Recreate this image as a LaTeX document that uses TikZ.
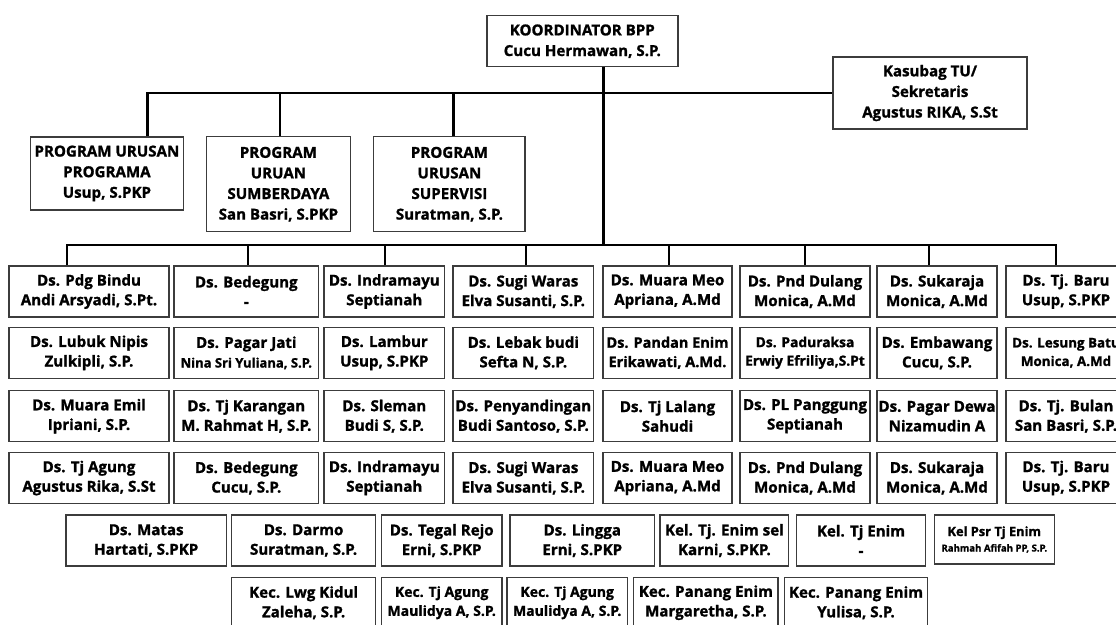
\documentclass[tikz,border=0pt]{standalone}
\usepackage{fontspec}
\setmainfont{Open Sans}[BoldFeatures={FakeBold=1.2}]
\definecolor{boxgray}{HTML}{3C3C3C}

\begin{document}
\begin{tikzpicture}[x=1pt, y=-1pt,
    box/.style={draw=boxgray, line width=1.4pt, fill=white, align=center, inner sep=0pt,
        minimum height=51pt, font=\bfseries\fontsize{15.1}{19.6}\selectfont},
    head/.style={box, font=\bfseries\fontsize{15.1}{20.6}\selectfont},
    link/.style={line width=2.2pt, line join=miter},
    smaller/.style={font=\bfseries\fontsize{13.8}{18.5}\selectfont}]
    \useasboundingbox (0,0) rectangle (1116,624);
    \clip (0,0) rectangle (1116,624);

    % top level
    \node[head, minimum width=191pt] (koord) at (582.3,41.2) {KOORDINATOR BPP\\Cucu Hermawan, S.P.};
    \node[head, minimum width=194pt, minimum height=72pt] (kasubag) at (930,93) {Kasubag TU/\\Sekretaris\\Agustus RIKA, S.St};
    \node[head, minimum width=153pt, minimum height=73pt] (prog1) at (106.9,173.5) {PROGRAM URUSAN\\PROGRAMA\\Usup, S.PKP};
    \node[head, minimum width=144pt, minimum height=95pt] (prog2) at (278.4,184.2) {PROGRAM\\URUAN\\SUMBERDAYA\\San Basri, S.PKP};
    \node[head, minimum width=151.5pt, minimum height=95pt] (prog3) at (449.4,184.2) {PROGRAM\\URUSAN\\SUPERVISI\\Suratman, S.P.};

    % desa, row 1
    \node[box, minimum width=160pt] (r1c1) at (89,291.5) {Ds. Pdg Bindu\\Andi Arsyadi, S.Pt.};
    \node[box, minimum width=144.7pt] (r1c2) at (246.3,291.5) {Ds. Bedegung\\-};
    \node[box, minimum width=120.7pt] (r1c3) at (384.3,291.5) {Ds. Indramayu\\Septianah};
    \node[box, minimum width=140.7pt] (r1c4) at (523.3,291.5) {Ds. Sugi Waras\\Elva Susanti, S.P.};
    \node[box, minimum width=129pt] (r1c5) at (667.5,291.5) {Ds. Muara Meo\\Apriana, A.Md};
    \node[box, minimum width=130pt] (r1c6) at (805,291.5) {Ds. Pnd Dulang\\Monica, A.Md};
    \node[box, minimum width=120pt] (r1c7) at (937,291.5) {Ds. Sukaraja\\Monica, A.Md};
    \node[box, minimum width=120pt] (r1c8) at (1066,291.5) {Ds. Tj. Baru\\Usup, S.PKP};

    % row 2
    \node[box, minimum width=160pt] (r2c1) at (89,352.8) {Ds. Lubuk Nipis\\Zulkipli, S.P.};
    \node[box, minimum width=144.7pt] (r2c2) at (246.3,352.8) {Ds. Pagar Jati\\{\fontsize{13}{17}\selectfont Nina Sri Yuliana, S.P.}};
    \node[box, minimum width=120.7pt] (r2c3) at (384.3,352.8) {Ds. Lambur\\Usup, S.PKP};
    \node[box, minimum width=140.7pt] (r2c4) at (523.3,352.8) {Ds. Lebak budi\\Sefta N, S.P.};
    \node[box, minimum width=129pt, font=\bfseries\fontsize{14.5}{19.3}\selectfont] (r2c5) at (667.5,352.8) {Ds. Pandan Enim\\Erikawati, A.Md.};
    \node[box, minimum width=130pt, smaller] (r2c6) at (805,352.8) {Ds. Paduraksa\\Erwiy Efriliya,S.Pt};
    \node[box, minimum width=120pt] (r2c7) at (937,352.8) {Ds. Embawang\\Cucu, S.P.};
    \node[box, minimum width=120pt, font=\bfseries\fontsize{13.4}{18.5}\selectfont] (r2c8) at (1066,352.8) {Ds. Lesung Batu\\Monica, A.Md};

    % row 3
    \node[box, minimum width=160pt] (r3c1) at (89,416.2) {Ds. Muara Emil\\Ipriani, S.P.};
    \node[box, minimum width=144.7pt] (r3c2) at (246.3,416.2) {Ds. Tj Karangan\\M. Rahmat H, S.P.};
    \node[box, minimum width=120.7pt] (r3c3) at (384.3,416.2) {Ds. Sleman\\Budi S, S.P.};
    \node[box, minimum width=140.7pt] (r3c4) at (523.3,416.2) {Ds. Penyandingan\\Budi Santoso, S.P.};
    \node[box, minimum width=129pt] (r3c5) at (667.5,416.2) {Ds. Tj Lalang\\Sahudi};
    \node[box, minimum width=130pt] (r3c6) at (805,416.2) {Ds. PL Panggung\\Septianah};
    \node[box, minimum width=120pt] (r3c7) at (937,416.2) {Ds. Pagar Dewa\\Nizamudin A};
    \node[box, minimum width=120pt] (r3c8) at (1066,416.2) {Ds. Tj. Bulan\\San Basri, S.P.};

    % row 4
    \node[box, minimum width=160pt] (r4c1) at (89,478) {Ds. Tj Agung\\Agustus Rika, S.St};
    \node[box, minimum width=144.7pt] (r4c2) at (246.3,478) {Ds. Bedegung\\Cucu, S.P.};
    \node[box, minimum width=120.7pt] (r4c3) at (384.3,478) {Ds. Indramayu\\Septianah};
    \node[box, minimum width=140.7pt] (r4c4) at (523.3,478) {Ds. Sugi Waras\\Elva Susanti, S.P.};
    \node[box, minimum width=129pt] (r4c5) at (667.5,478) {Ds. Muara Meo\\Apriana, A.Md};
    \node[box, minimum width=130pt] (r4c6) at (805,478) {Ds. Pnd Dulang\\Monica, A.Md};
    \node[box, minimum width=120pt] (r4c7) at (937,478) {Ds. Sukaraja\\Monica, A.Md};
    \node[box, minimum width=120pt] (r4c8) at (1066,478) {Ds. Tj. Baru\\Usup, S.PKP};

    % row 5
    \node[box, minimum width=160.4pt] (r5c1) at (146.2,540.5) {Ds. Matas\\Hartati, S.PKP};
    \node[box, minimum width=144.3pt] (r5c2) at (303.6,540.5) {Ds. Darmo\\Suratman, S.P.};
    \node[box, minimum width=120.6pt] (r5c3) at (441.7,540.5) {Ds. Tegal Rejo\\Erni, S.PKP};
    \node[box, minimum width=144.6pt] (r5c4) at (582.3,540.5) {Ds. Lingga\\Erni, S.PKP};
    \node[box, minimum width=128.7pt] (r5c5) at (724.4,540.5) {Kel. Tj. Enim sel\\Karni, S.PKP.};
    \node[box, minimum width=129.3pt] (r5c6) at (861,540.5) {Kel. Tj Enim\\-};
    \node[box, minimum width=120.1pt, minimum height=49pt, font=\bfseries\fontsize{12.8}{15.5}\selectfont] (r5c7) at (994.3,539.5)
        {Kel Psr Tj Enim\\{\fontsize{9.6}{11}\selectfont Rahmah Afifah PP, S.P.}};

    % row 6
    \node[box, minimum width=144.3pt] (r6c1) at (303.6,602.7) {Kec. Lwg Kidul\\Zaleha, S.P.};
    \node[box, minimum width=120.6pt, font=\bfseries\fontsize{14}{19}\selectfont] (r6c2) at (441.7,602.7) {Kec. Tj Agung\\Maulidya A, S.P.};
    \node[box, minimum width=120.4pt, font=\bfseries\fontsize{14}{19}\selectfont] (r6c3) at (567.2,602.7) {Kec. Tj Agung\\Maulidya A, S.P.};
    \node[box, minimum width=144.3pt] (r6c4) at (705.9,602.7) {Kec. Panang Enim\\Margaretha, S.P.};
    \node[box, minimum width=143.3pt] (r6c5) at (856,602.7) {Kec. Panang Enim\\Yulisa, S.P.};

    % connectors
    \coordinate (trunk) at ([xshift=21.2pt]koord.south);
    \coordinate (lowbus) at (603.5,245);
    \draw[link] (trunk) -- (trunk |- lowbus);
    \draw[link] (prog1.north -| 147.4,0) |- (kasubag.west);
    \foreach \p/\x in {prog2/279.6, prog3/453.5}
        \draw[link] (\p.north -| \x,0) -- (\x,92.3);
    \draw[link] (r1c1.north -| 66.7,0) |- (lowbus) -| (r1c8.north -| 1055.7,0);
    \foreach \c/\x in {2/247.7, 3/384.7, 4/526.3, 5/668.7, 6/804.7, 7/929}
        \draw[link] (r1c\c.north -| \x,0) -- (lowbus -| \x,0);
\end{tikzpicture}
\end{document}
